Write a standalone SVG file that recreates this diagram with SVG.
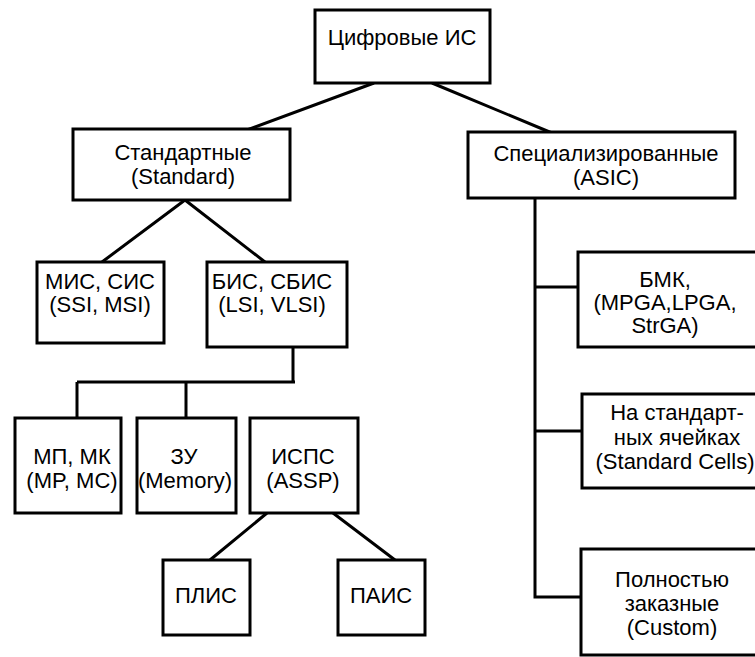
<svg xmlns="http://www.w3.org/2000/svg" width="755" height="657" viewBox="0 0 755 657">
<style>
.b{fill:#fff;stroke:#000;stroke-width:3}
.c{fill:none;stroke:#000;stroke-width:3}
text{font-family:"Liberation Sans",Arial,sans-serif;font-size:22px;fill:#000;text-anchor:middle}
</style>
<rect width="755" height="657" fill="#fff"/>
<g id="connectors">
<path class="c" d="M374 83 L247 130 M432 83 L552 133"/>
<path class="c" d="M185 200 L102 262 M185 200 L265 262"/>
<path class="c" d="M293 347 V382 M77 382 H295 M77 382 V418 M186 382 V418"/>
<path class="c" d="M267 513 L210 560 M333 513 L395 560"/>
<path class="c" d="M535 198 V597 H581 M535 287 H578 M535 431 H582"/>
</g>
<g id="n-root"><rect class="b" x="315" y="10" width="175" height="73"/><text x="402" y="45">Цифровые ИС</text></g>
<g id="n-std"><rect class="b" x="73" y="129" width="217" height="71"/><text x="183" y="160">Стандартные</text><text x="183" y="184">(Standard)</text></g>
<g id="n-asic"><rect class="b" x="468" y="132" width="267" height="66"/><text x="606" y="161">Специализированные</text><text x="606" y="185">(ASIC)</text></g>
<g id="n-mis"><rect class="b" x="37" y="262" width="127" height="81"/><text x="100" y="289">МИС, СИС</text><text x="100" y="312">(SSI, MSI)</text></g>
<g id="n-bis"><rect class="b" x="207" y="262" width="140" height="85"/><text x="272" y="289">БИС, СБИС</text><text x="272" y="312">(LSI, VLSI)</text></g>
<g id="n-mp"><rect class="b" x="15" y="418" width="106" height="95"/><text x="72" y="464">МП, МК</text><text x="72" y="488">(MP, MC)</text></g>
<g id="n-zu"><rect class="b" x="137" y="418" width="99" height="95"/><text x="184" y="464">ЗУ</text><text x="185" y="488">(Memory)</text></g>
<g id="n-ispc"><rect class="b" x="250" y="418" width="108" height="95"/><text x="303" y="464">ИСПС</text><text x="303" y="488">(ASSP)</text></g>
<g id="n-plis"><rect class="b" x="163" y="560" width="87" height="75"/><text x="206" y="603">ПЛИС</text></g>
<g id="n-pais"><rect class="b" x="338" y="560" width="87" height="75"/><text x="381" y="603">ПАИС</text></g>
<g id="n-bmk"><rect class="b" x="578" y="252" width="190" height="95"/><text x="665" y="287">БМК,</text><text x="665" y="310">(MPGA,LPGA,</text><text x="665" y="333">StrGA)</text></g>
<g id="n-sc"><rect class="b" x="582" y="394" width="190" height="94"/><text x="677" y="420">На стандарт-</text><text x="677" y="445">ных ячейках</text><text x="675" y="469">(Standard Cells)</text></g>
<g id="n-custom"><rect class="b" x="581" y="549" width="190" height="106"/><text x="672" y="587">Полностью</text><text x="672" y="611">заказные</text><text x="672" y="635">(Custom)</text></g>
</svg>
